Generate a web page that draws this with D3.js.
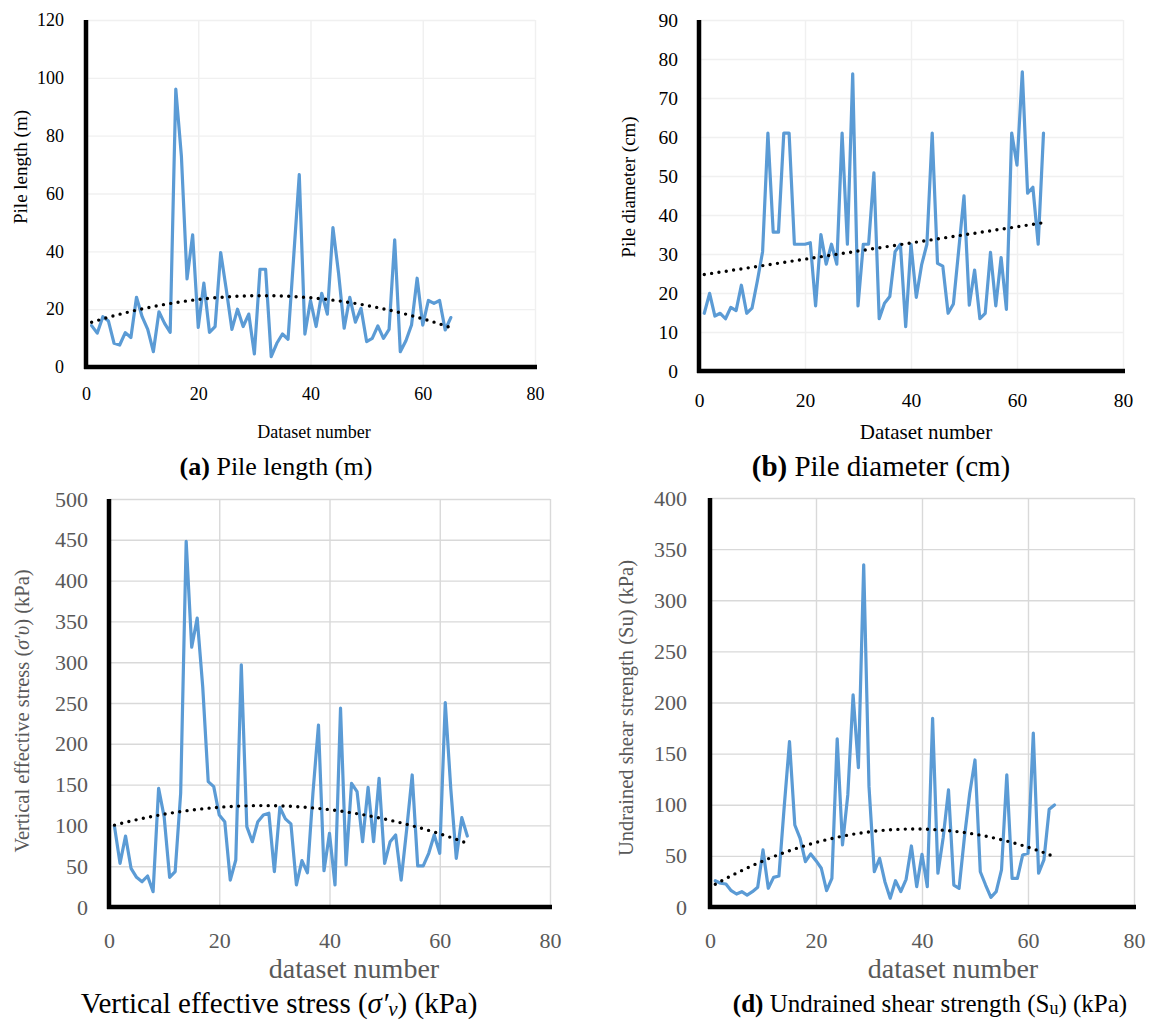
<!DOCTYPE html>
<html><head><meta charset="utf-8">
<script src="https://cdn.jsdelivr.net/npm/d3@7"></script>
<style>body{margin:0;background:#fff} text{font-family:"Liberation Serif","Times New Roman",serif}</style>
</head><body>
<svg id="chart" width="1150" height="1024"></svg>
<script>
// ---------- data ----------
const datasetNumber = d3.range(1, 66);
const xTickValues = [0, 20, 40, 60, 80];

const pileLength = [14.3,11.7,17.4,15.9,8.2,7.6,11.9,10.2,24.1,17.4,13.0,5.3,19.1,15.1,12.0,96.1,72.8,30.5,45.7,13.7,
  29.0,12.0,14.0,39.6,26.7,13.0,20.0,14.0,18.3,4.5,33.8,33.8,3.6,8.2,11.4,9.6,38.0,66.5,11.4,23.0,
  14.0,25.5,18.3,48.2,32.4,13.4,24.1,15.5,20.3,8.8,9.9,14.2,9.9,13.0,44.0,5.3,9.1,14.5,30.7,14.5,
  23.0,22.0,23.0,12.8,17.1];
const lengthTicks = [0, 20, 40, 60, 80, 100, 120];

const pileDiameter = [14.8,19.9,14.1,14.8,13.4,16.3,15.5,22.0,14.8,16.1,23.0,30.6,61,35.6,35.6,61,61,32.5,32.5,32.5,
  32.9,16.7,35.0,27.4,32.5,27.4,61,32.5,76.2,16.7,32.5,32.5,50.8,13.4,17.4,19.1,30.6,32.5,11.4,32.5,
  18.9,27.2,32.5,61,27.6,26.9,14.8,17.2,31.0,44.9,16.9,25.9,13.4,14.8,30.4,16.7,29.1,15.8,61,52.8,
  76.7,45.6,47.1,32.5,61];
const diameterTicks = [0, 10, 20, 30, 40, 50, 60, 70, 80, 90];

const effectiveStress = [98.5,53.5,87,47.4,36.4,31,38,18.8,145.5,110.7,36.4,43.3,139.4,448,318.4,354,270,153.6,147.5,112.8,
  104.6,33,57.6,296.7,98.5,80,104.6,112.8,114.9,43.3,122,108,101.8,27,56.8,42,140,223,44.5,90.3,
  27,243.6,51.5,151.6,141.4,80,146.7,80,157.8,53.5,80,88.3,33,95,161.8,50.3,50.3,65.8,88.3,65.8,
  250.5,145,59.7,109.5,87];
const stressTicks = [0, 50, 100, 150, 200, 250, 300, 350, 400, 450, 500];

const shearStrength = [25.7,23.2,22.5,16,12.7,15,11.7,15,19.3,55.8,18.3,29,30.3,98,161.7,80.2,67.2,44.3,51.9,45.3,
  37.9,16,28,164.4,60.7,109.6,207.4,136.3,334.6,117.7,34.5,47.6,24.8,8.5,25.7,15,27.1,59.7,19.9,51.5,
  19.9,184.6,33,68,114.5,21.5,18.3,68,111,143.8,34.5,21.5,9.5,15,36.2,129.2,28,28,50.9,52.5,
  170,33,46,95.6,99.8];
const strengthTicks = [0, 50, 100, 150, 200, 250, 300, 350, 400];

// ---------- helpers ----------
function polyfit(xs, ys, deg) {
  const n = deg + 1;
  const A = Array.from({length: n}, () => new Array(n + 1).fill(0));
  for (let i = 0; i < xs.length; i++) {
    for (let r = 0; r < n; r++) {
      for (let c = 0; c < n; c++) A[r][c] += Math.pow(xs[i], r + c);
      A[r][n] += ys[i] * Math.pow(xs[i], r);
    }
  }
  for (let p = 0; p < n; p++) {
    let m = p;
    for (let r = p + 1; r < n; r++) if (Math.abs(A[r][p]) > Math.abs(A[m][p])) m = r;
    [A[p], A[m]] = [A[m], A[p]];
    for (let r = 0; r < n; r++) {
      if (r === p) continue;
      const f = A[r][p] / A[p][p];
      for (let c = p; c <= n; c++) A[r][c] -= f * A[p][c];
    }
  }
  const coef = A.map((row, i) => row[n] / row[i]);
  return x => coef.reduce((s, c, i) => s + c * Math.pow(x, i), 0);
}

const svg = d3.select("#chart");

function panel(cfg) {
  const g = svg.append("g");
  const x = d3.scaleLinear().domain([0, 80]).range([cfg.left, cfg.right]);
  const y = d3.scaleLinear().domain([0, cfg.yTicks[cfg.yTicks.length - 1]]).range([cfg.bottom, cfg.top]);

  // gridlines
  g.append("g").call(d3.axisLeft(y).tickValues(cfg.yTicks).tickSize(-(cfg.right - cfg.left)).tickFormat(""))
    .attr("transform", `translate(${cfg.left},0)`)
    .call(s => s.select(".domain").remove())
    .call(s => s.selectAll("line").attr("stroke", cfg.grid).attr("stroke-width", 1.4));
  g.append("g").call(d3.axisBottom(x).tickValues(xTickValues.slice(1)).tickSize(-(cfg.bottom - cfg.top)).tickFormat(""))
    .attr("transform", `translate(0,${cfg.bottom})`)
    .call(s => s.select(".domain").remove())
    .call(s => s.selectAll("line").attr("stroke", cfg.grid).attr("stroke-width", 1.4));

  // tick labels via axes
  g.append("g").attr("transform", `translate(${cfg.left - cfg.yLabGap},0)`)
    .call(d3.axisLeft(y).tickValues(cfg.yTicks).tickSize(0).tickPadding(0))
    .call(s => s.select(".domain").remove())
    .call(s => s.selectAll("text").attr("font-family", "Liberation Serif").attr("font-size", cfg.tickSize).attr("fill", cfg.tickColor));
  g.append("g").attr("transform", `translate(0,${cfg.xLabY})`)
    .call(d3.axisBottom(x).tickValues(xTickValues).tickSize(0).tickPadding(0))
    .call(s => s.select(".domain").remove())
    .call(s => s.selectAll("text").attr("font-family", "Liberation Serif").attr("font-size", cfg.tickSize).attr("fill", cfg.tickColor).attr("dy", "0.35em"));

  // data line
  const pts = datasetNumber.map((d, i) => [d, cfg.values[i]]);
  g.append("path").datum(pts)
    .attr("d", d3.line().x(d => x(d[0])).y(d => y(d[1])))
    .attr("fill", "none").attr("stroke", "#5B9BD5").attr("stroke-width", 3.2)
    .attr("stroke-linejoin", "round").attr("stroke-linecap", "round");

  // trendline
  const f = polyfit(datasetNumber, cfg.values, cfg.deg);
  const tx = d3.range(1, 65.01, 0.25);
  g.append("path").datum(tx)
    .attr("d", d3.line().x(d => x(d)).y(d => y(f(d))))
    .attr("fill", "none").attr("stroke", "#000").attr("stroke-width", 3.4)
    .attr("stroke-linecap", "round").attr("stroke-dasharray", "0 7.4");

  // axis lines
  g.append("line").attr("x1", cfg.left).attr("x2", cfg.left).attr("y1", cfg.top).attr("y2", cfg.bottom + 2)
    .attr("stroke", "#000").attr("stroke-width", 4.5);
  g.append("line").attr("x1", cfg.left - 2).attr("x2", cfg.right + 2).attr("y1", cfg.bottom).attr("y2", cfg.bottom)
    .attr("stroke", "#000").attr("stroke-width", 4.5);

  // axis titles
  const yt = g.append("text").attr("transform", `translate(${cfg.yTitleX},${cfg.yTitleY}) rotate(-90)`)
    .attr("text-anchor", "middle").attr("dominant-baseline", "central")
    .attr("font-size", cfg.yTitleSize).attr("fill", cfg.titleColor);
  cfg.yTitle(yt);
  g.append("text").attr("x", cfg.xTitleX).attr("y", cfg.xTitleY)
    .attr("text-anchor", "middle").attr("dominant-baseline", "central")
    .attr("font-size", cfg.xTitleSize).attr("fill", cfg.titleColor).text(cfg.xTitle);

  // caption
  const cap = g.append("text").attr("x", cfg.capX).attr("y", cfg.capY)
    .attr("text-anchor", "middle").attr("dominant-baseline", "central")
    .attr("font-size", cfg.capSize).attr("fill", "#000");
  cfg.caption(cap);
}

panel({
  left: 86, right: 535, top: 20, bottom: 367, yTicks: lengthTicks, values: pileLength, deg: 2,
  grid: "#f0f0f0", tickSize: 18, tickColor: "#000", yLabGap: 22, xLabY: 394,
  yTitleX: 20, yTitleY: 167, yTitleSize: 19, titleColor: "#000",
  yTitle: t => t.text("Pile length (m)"),
  xTitle: "Dataset number", xTitleX: 314, xTitleY: 432, xTitleSize: 18,
  capX: 276, capY: 466, capSize: 26,
  caption: t => { t.append("tspan").attr("font-weight", "bold").text("(a)"); t.append("tspan").text(" Pile length (m)"); }
});

panel({
  left: 699, right: 1123, top: 20, bottom: 371, yTicks: diameterTicks, values: pileDiameter, deg: 1,
  grid: "#f0f0f0", tickSize: 19.5, tickColor: "#000", yLabGap: 21, xLabY: 400,
  yTitleX: 628, yTitleY: 187, yTitleSize: 19, titleColor: "#000",
  yTitle: t => t.text("Pile diameter (cm)"),
  xTitle: "Dataset number", xTitleX: 926, xTitleY: 432, xTitleSize: 21,
  capX: 881, capY: 466, capSize: 29,
  caption: t => { t.append("tspan").attr("font-weight", "bold").text("(b)"); t.append("tspan").text(" Pile diameter (cm)"); }
});

panel({
  left: 109, right: 550, top: 499, bottom: 907, yTicks: stressTicks, values: effectiveStress, deg: 2,
  grid: "#d9d9d9", tickSize: 22, tickColor: "#595959", yLabGap: 21, xLabY: 940,
  yTitleX: 22, yTitleY: 711, yTitleSize: 20.5, titleColor: "#595959",
  yTitle: t => { t.append("tspan").text("Vertical effective stress ("); t.append("tspan").attr("font-style", "italic").text("σ′υ"); t.append("tspan").text(") (kPa)"); },
  xTitle: "dataset number", xTitleX: 354, xTitleY: 968, xTitleSize: 28,
  capX: 279, capY: 1003, capSize: 29,
  caption: t => {
    t.append("tspan").text("Vertical effective stress (");
    t.append("tspan").attr("font-style", "italic").text("σ′");
    t.append("tspan").attr("font-style", "italic").attr("font-size", 21).attr("dy", 6).text("v");
    t.append("tspan").attr("dy", -6).text(") (kPa)");
  }
});

panel({
  left: 710, right: 1134, top: 498, bottom: 907, yTicks: strengthTicks, values: shearStrength, deg: 2,
  grid: "#d9d9d9", tickSize: 22, tickColor: "#595959", yLabGap: 23, xLabY: 940,
  yTitleX: 626, yTitleY: 708, yTitleSize: 20.5, titleColor: "#595959",
  yTitle: t => t.text("Undrained shear strength (Su) (kPa)"),
  xTitle: "dataset number", xTitleX: 953, xTitleY: 968, xTitleSize: 28,
  capX: 930, capY: 1003, capSize: 25,
  caption: t => {
    t.append("tspan").attr("font-weight", "bold").text("(d)");
    t.append("tspan").text(" Undrained shear strength (S");
    t.append("tspan").attr("font-size", 18).attr("dy", 5).text("u");
    t.append("tspan").attr("dy", -5).text(") (kPa)");
  }
});
</script>
</body></html>
